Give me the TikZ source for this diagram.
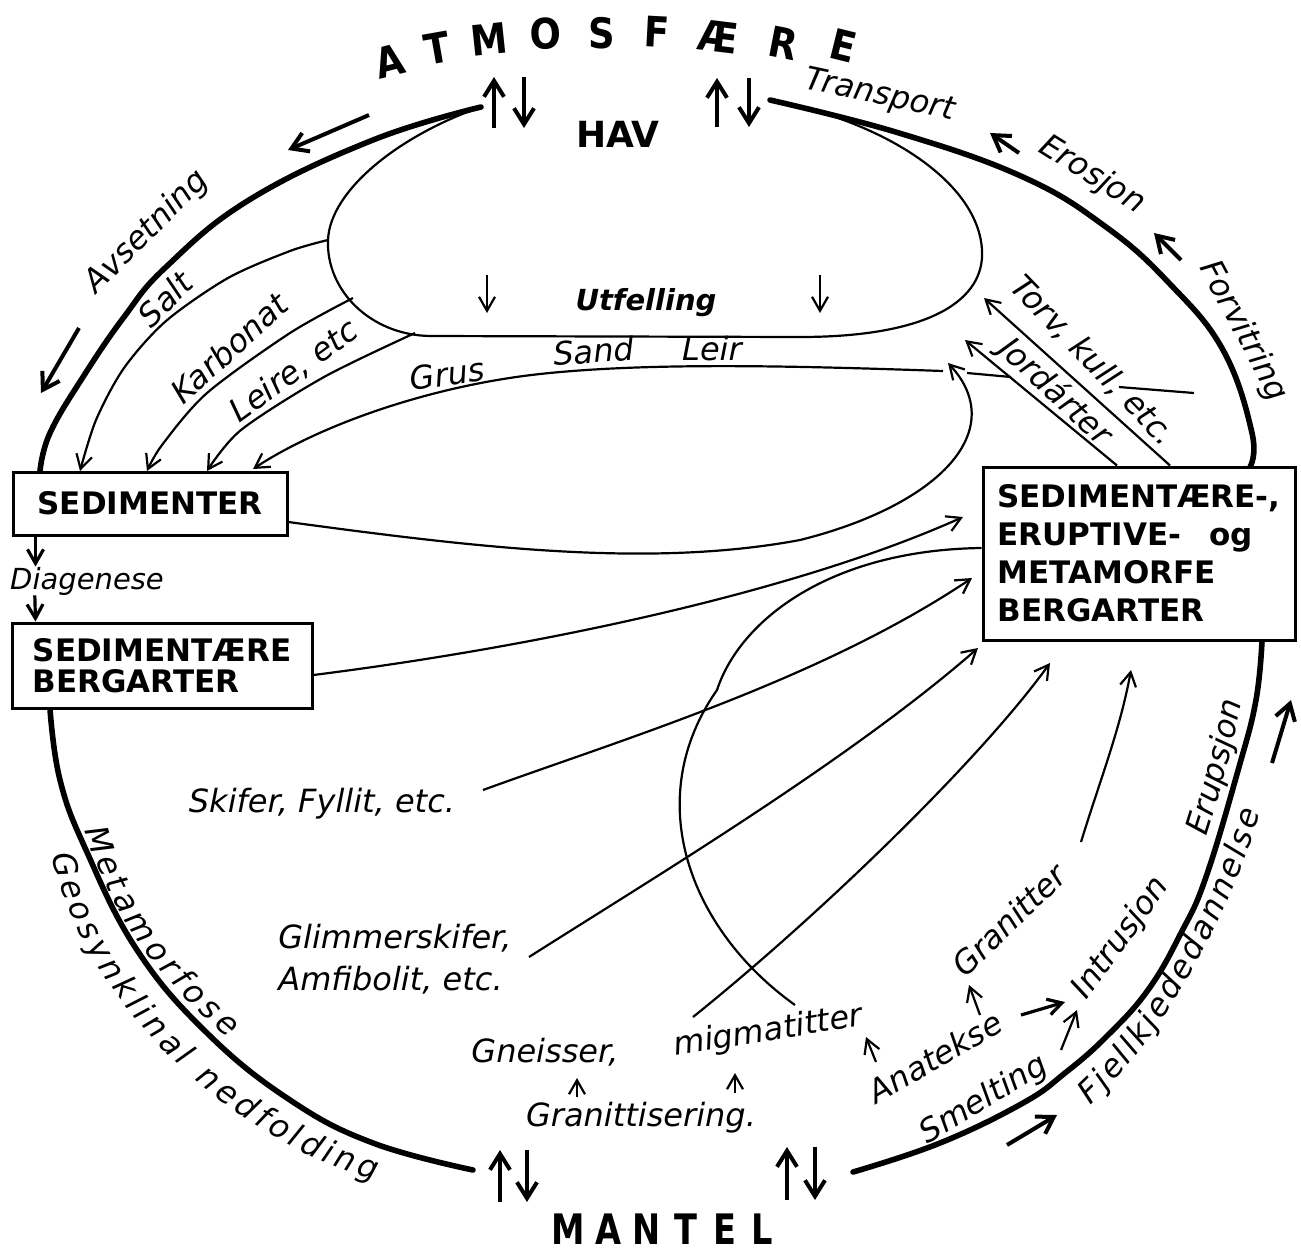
\documentclass[tikz,border=0pt]{standalone}
\usepackage{fontspec}
\setmainfont{DejaVu Sans}
\usetikzlibrary{arrows.meta,decorations.text}

\newcommand\labfont{\fontsize{16}{20}\selectfont\itshape}
\newcommand\smlabfont{\fontsize{14.5}{18}\selectfont\itshape}
\newcommand\boxfont{\fontsize{15.5}{19}\selectfont\bfseries}
\newcommand\titlefont{\fontsize{21}{21}\selectfont\bfseries}

\tikzset{
  ring/.style={line width=2.8pt, line cap=round},
  thin/.style={line width=1.1pt},
  flow/.style={thin, -{Straight Barb[length=7pt,width=8pt]}},
  bigflow/.style={line width=2pt, -{Straight Barb[length=8pt,width=10pt]}},
  lab/.style={font=\labfont, inner sep=0pt},
  title/.style={font=\titlefont, inner sep=0pt},
  rockbox/.style={draw, line width=1.5pt, fill=white, font=\boxfont, align=left, inner sep=0pt},
}

\begin{document}
\begin{tikzpicture}[x=0.5pt,y=-0.5pt]
\useasboundingbox (0,0) rectangle (1301,1254);

% ATMOSFAERE on a flat arch
\foreach \c/\px/\py/\r [count=\i] in {A/390/61/14, T/437/48/10, M/489/39/6, O/546/34/2, S/602/33/0, F/657/32/-3, Æ/718/37/-7, R/783/43/-11, E/843/46/-14}
  \node[title, rotate=\r, xscale=0.88] (atm\i) at (\px,\py) {\c};
% MANTEL
\foreach \c/\px [count=\i] in {M/568, A/608, N/647, T/686, E/725, L/762}
  \node[title, xscale=0.8] (mantel\i) at (\px,1229) {\c};
\node[font=\fontsize{18}{18}\selectfont\bfseries, inner sep=0pt] (hav) at (618,134) {HAV};

% up/down exchange arrows
\foreach \u/\d/\ya/\yb in {494/524/77/128, 717/749/78/127, 500/527/1150/1202, 787/815/1147/1200}{
  \draw[bigflow] (\u,\yb) -- (\u,\ya);
  \draw[bigflow] (\d,\ya) -- (\d,\yb);
}

% the big ring, four pieces
\draw[ring] plot[smooth, tension=0.7] coordinates {(481,107) (373,140) (249,200) (166,267) (124,317) (83,377) (50,433) (40,471)};
\draw[ring] plot[smooth, tension=0.7] coordinates {(50,709) (60,780) (86,850) (137,950) (207,1033) (290,1100) (373,1143) (473,1170)};
\draw[ring] plot[smooth, tension=0.7] coordinates {(853,1172) (940,1143) (1023,1103) (1065,1073) (1106,1037) (1148,990) (1181,933) (1206,877) (1239,767) (1256,700) (1262,641)};
\draw[ring] plot[smooth, tension=0.7] coordinates {(1250,467) (1252,433) (1223,350) (1169,283) (1106,227) (1023,177) (899,133) (770,100)};

% the sea
\draw[thin] (481,107) .. controls (400,135) and (330,190) .. (328,240) .. controls (326,290) and (370,335) .. (430,336) -- (800,337) .. controls (930,337) and (985,300) .. (982,250) .. controls (978,180) and (880,120) .. (770,100);
\draw[flow] (487,275) -- (487,313);
\draw[flow] (820,275) -- (820,313);
\node[font=\fontsize{14.5}{18}\selectfont\bfseries\itshape, inner sep=0pt] (utfelling) at (646,303) {Utfelling};

% boxes
\node[rockbox, minimum width=137pt, minimum height=31.5pt] (sed) at (150,503.5) {SEDIMENTER};
\node[rockbox, minimum width=150pt, minimum height=42.5pt, font=\fontsize{15.5}{15.5}\selectfont\bfseries] (sedberg) at (162,665.5) {SEDIMENTÆRE\\BERGARTER};
\node[rockbox, minimum width=156pt, minimum height=86.5pt] (rocks) at (1139,553.5) {SEDIMENTÆRE-,\\ERUPTIVE-\hspace{14pt}og\\METAMORFE\\BERGARTER};

% ring labels
\node[lab, rotate=45] (avsetning) at (147,232) {Avsetning};
\node[lab, rotate=-12] (transport) at (880,96) {Transport};
\node[lab, rotate=-32] (erosjon) at (1092,175) {Erosjon};
\node[lab, rotate=-62] (forvitring) at (1243,331) {Forvitring};
\path[decorate, decoration={text along path, text align=fit to path, text={|\labfont|Metamorfose}}] (85,830) .. controls (106,905) and (156,978) .. (228,1038);
\path[decorate, decoration={text along path, text align=fit to path, text={|\labfont|Geosynklinal nedfolding}}] (52,855) .. controls (82,1000) and (230,1140) .. (375,1180);
\path[decorate, decoration={text along path, text align=center, text={|\labfont|Erupsjon}}] (1203,846) .. controls (1218,800) and (1234,745) .. (1244,692);
\path[decorate, decoration={text along path, text align=fit to path, text={|\labfont|Fjellkjededannelse}}] (1090,1105) .. controls (1160,1040) and (1225,930) .. (1260,812);

% ring direction arrows
\draw[bigflow] (369,115) -- (288,150);
\draw[bigflow] (79,328) -- (41,393);
\draw[bigflow] (1019,153) -- (990,133);
\draw[bigflow] (1181,260) -- (1154,233);
\draw[bigflow] (1272,763) -- (1291,700);
\draw[bigflow] (1007,1145) -- (1057,1115);

% deposits into SEDIMENTER
\node[lab, rotate=45] (salt) at (165,299) {Salt};
\node[lab, rotate=42] (karbonat) at (229,348) {Karbonat};
\node[lab, rotate=36] (leire) at (294,371) {Leire, etc};
\node[lab, rotate=8] (grus) at (447,374) {Grus};
\node[lab, rotate=4] (sand) at (594,351) {Sand};
\node[lab] (leir) at (712,349) {Leir};
\coordinate (salt-in) at (80,471);
\coordinate (karb-in) at (147,471);
\coordinate (leire-in) at (207,471);
\coordinate (grus-in) at (253,469);
\draw[flow] plot[smooth] coordinates {(328,240) (290,251) (228,278) (166,321) (124,368) (96,420) (salt-in)};
\draw[flow] plot[smooth] coordinates {(353,298) (290,333) (207,393) (162,445) (karb-in)};
\draw[flow] plot[smooth] coordinates {(415,333) (324,377) (241,430) (leire-in)};
\draw[thin] (1194,393) -- (1119,387);
\draw[thin] (1011,377) -- (967,373);
\draw[flow] (943,371) .. controls (800,366) and (650,362) .. (540,374) .. controls (430,386) and (320,425) .. (grus-in);

% Diagenese
\node[lab, font=\smlabfont] (diagenese) at (87,581) {Diagenese};
\draw[flow, line width=1.6pt] ([xshift=12pt]sed.south west) -- ([xshift=12pt]sed.south west |- diagenese.north);
\draw[flow, line width=1.6pt] ([xshift=12.5pt]diagenese.south west) -- ([xshift=12.5pt]sedberg.north west);

% weathering back to the sea
\node[lab, rotate=-46] (torv) at (1093,361) {Torv, kull, etc.};
\node[lab, rotate=-43] (jordarter) at (1055,392) {Jordárter};
\coordinate (torv-out) at (984,298);
\coordinate (jord-out) at (965,340);
\draw[flow] (rocks.north west -| 1170,0) -- (torv-out);
\draw[flow] (rocks.north west -| 1117,0) -- (jord-out);

% into the rock box
\coordinate (uplift) at (948,363);
\coordinate (sb-in) at (963,517);
\coordinate (skifer-in) at (972,578);
\coordinate (glimmer-in) at (978,648);
\coordinate (gneiss-in) at (1050,663);
\coordinate (granitt-in) at (1131,670);
\draw[flow] (sed.east |- 0,522) .. controls (480,548) and (650,568) .. (800,540) .. controls (940,505) and (1010,430) .. (uplift);
\draw[flow] (sedberg.east |- 0,675) .. controls (550,645) and (800,590) .. (sb-in);
\node[lab] (skifer) at (322,804) {Skifer, Fyllit, etc.};
\draw[flow] (483,790) .. controls (620,740) and (820,680) .. (skifer-in);
\node[lab, align=left, anchor=west, font=\fontsize{16}{21}\selectfont\itshape] (glimmer) at (278,959) {Glimmerskifer,\\Amfibolit, etc.};
\draw[flow] (529,957) .. controls (650,880) and (850,760) .. (glimmer-in);

% deep crust
\node[lab] (gneisser) at (545,1052) {Gneisser,};
\node[lab, rotate=9] (migmatitt) at (768,1032) {migmatitter};
\node[lab] (granittis) at (641,1118) {Granittisering.};
\node[lab, rotate=30] (anatekse) at (935,1057) {Anatekse};
\node[lab, rotate=44] (granitter) at (1009,920) {Granitter};
\node[lab, rotate=54] (intrusjon) at (1121,938) {Intrusjon};
\node[lab, rotate=31] (smelting) at (984,1100) {Smelting};
\draw[flow] (693,1017) .. controls (820,915) and (980,760) .. (gneiss-in);
\draw[thin] (795,1005) .. controls (690,930) and (640,800) .. (717,690) .. controls (740,620) and (830,550) .. (rocks.west |- 0,548);
\draw[flow] (1081,842) .. controls (1100,780) and (1120,730) .. (granitt-in);

% small steps between the labels
\draw[flow] (577,1097) -- (577,1078);
\draw[flow] (735,1093) -- (735,1073);
\draw[flow] (876,1062) -- (866,1037);
\draw[flow] (980,1015) -- (969,985);
\draw[flow, line width=1.6pt] (1021,1015) -- (1065,1002);
\draw[flow] (1061,1050) -- (1077,1010);
\end{tikzpicture}
\end{document}
